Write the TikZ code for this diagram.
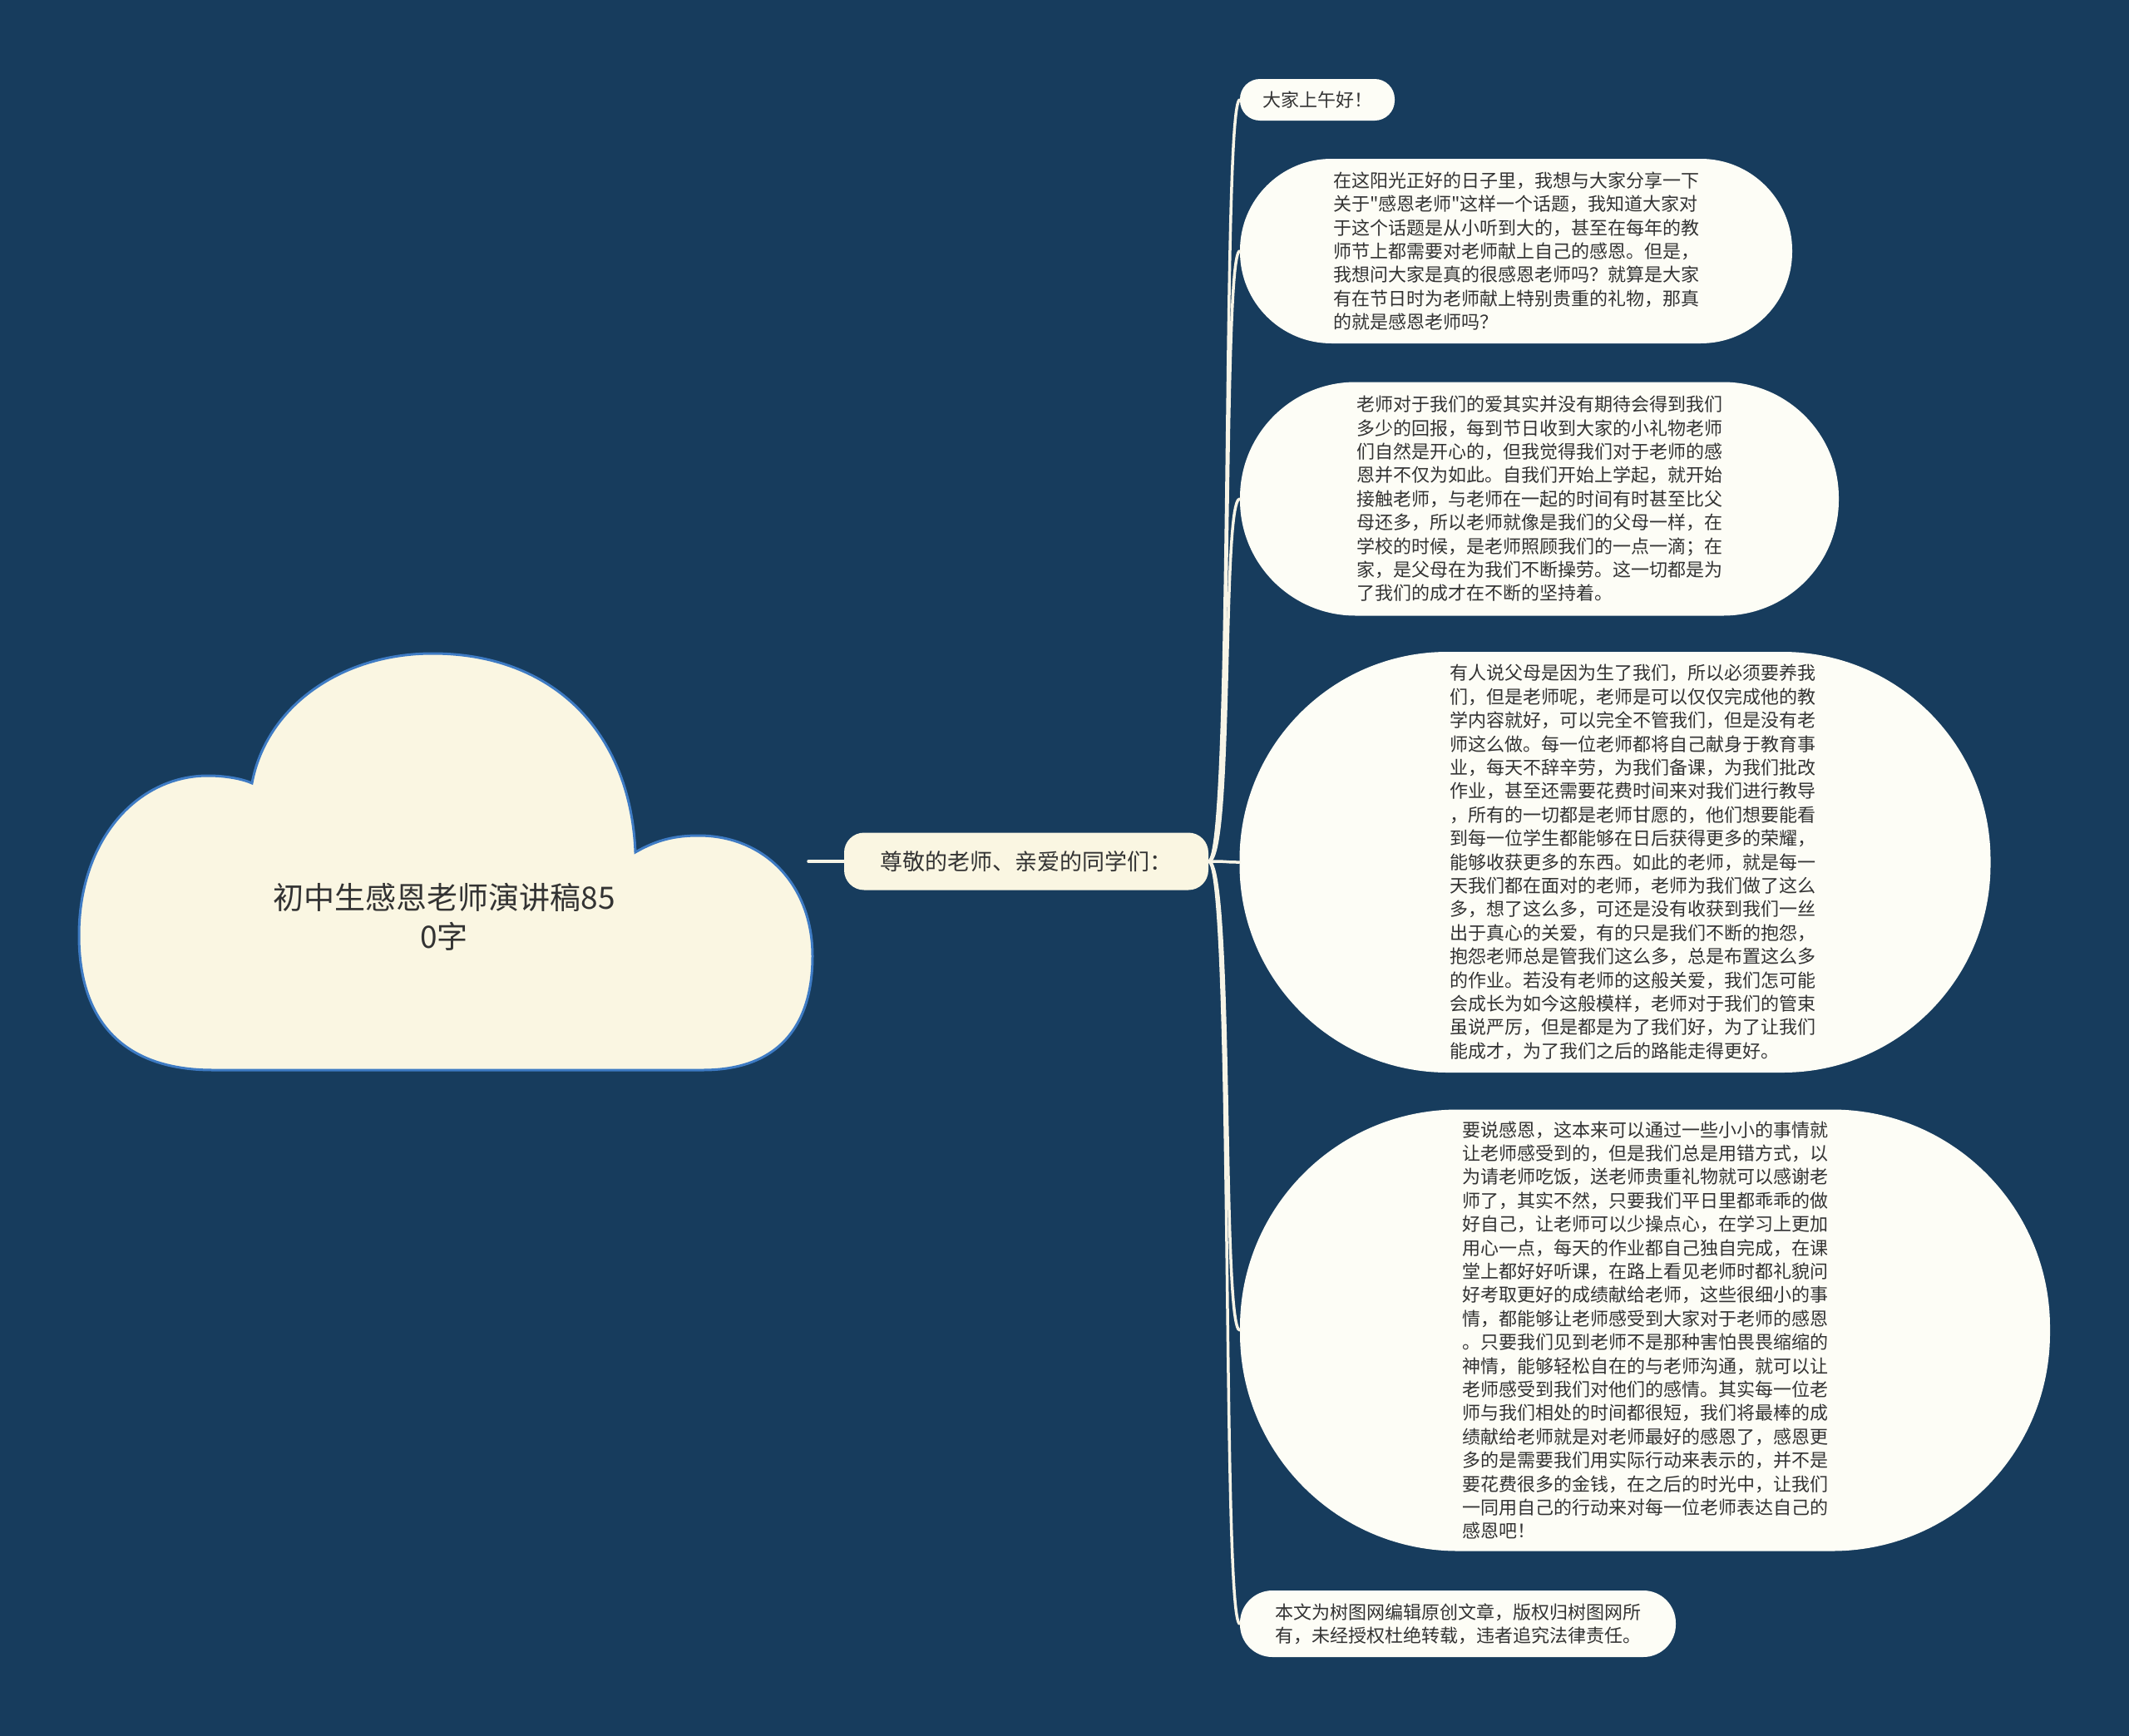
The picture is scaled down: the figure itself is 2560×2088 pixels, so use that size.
\documentclass[tikz,border=0pt]{standalone}
\usepackage{fontspec}
\usetikzlibrary{calc}
\newfontfamily\cjk{Noto Sans CJK SC}
\definecolor{bgc}{HTML}{173C5D}
\definecolor{leafc}{HTML}{FDFDF6}
\definecolor{cloudc}{HTML}{FAF6E2}
\definecolor{cloudline}{HTML}{3E7BC4}
\definecolor{linkc}{HTML}{F7F4E6}
\definecolor{txt}{HTML}{333333}
\begin{document}
\begin{tikzpicture}[x=1pt,y=-1pt,
  leaf/.style={fill=leafc, text=txt, font=\cjk\fontsize{22}{28.4}\selectfont, align=left, inner sep=0pt, anchor=center},
  midbox/.style={fill=cloudc, text=txt, font=\cjk\fontsize{27}{34}\selectfont, inner sep=0pt, anchor=center, minimum width=438pt, minimum height=69pt, rounded corners=24pt},
  title/.style={text=txt, font=\cjk\fontsize{37}{47}\selectfont, align=center, inner sep=0pt},
  link/.style={draw=linkc, line width=3.5pt, line cap=round},
  cloudshape/.style={fill=cloudc, draw=cloudline, line width=3pt}]
\useasboundingbox (0,0) rectangle (2560,2088);
\fill[bgc] (0,0) rectangle (2560,2088);

% cloud
\path[cloudshape] (256,1287)
  .. controls (150,1287) and (95,1230) .. (95,1125)
  .. controls (95,1010) and (165,933) .. (250,933)
  .. controls (272,933) and (292,937) .. (303,942)
  .. controls (320,850) and (410,786) .. (520,786)
  .. controls (665,786) and (758,880) .. (764,1025)
  .. controls (790,1010) and (812,1005) .. (840,1005)
  .. controls (920,1005) and (977,1065) .. (977,1150)
  .. controls (977,1235) and (935,1287) .. (845,1287)
  -- cycle;
\node[title] (root) at (534,1103) {初中生感恩老师演讲稿85\\0字};
\coordinate (rootR) at (972,1036);

\node[midbox] (mid) at (1234,1036) {尊敬的老师、亲爱的同学们：};

\node[leaf, minimum width=186pt, minimum height=50pt, rounded corners=24pt] (n1) at (1584,120) {大家上午好！};

\node[leaf, minimum width=664pt, minimum height=222pt, rounded corners=110pt] (n2) at (1823,302) {在这阳光正好的日子里，我想与大家分享一下\\关于"感恩老师"这样一个话题，我知道大家对\\于这个话题是从小听到大的，甚至在每年的教\\师节上都需要对老师献上自己的感恩。但是，\\我想问大家是真的很感恩老师吗？就算是大家\\有在节日时为老师献上特别贵重的礼物，那真\\的就是感恩老师吗？};

\node[leaf, minimum width=720pt, minimum height=281pt, rounded corners=139pt] (n3) at (1851,600) {老师对于我们的爱其实并没有期待会得到我们\\多少的回报，每到节日收到大家的小礼物老师\\们自然是开心的，但我觉得我们对于老师的感\\恩并不仅为如此。自我们开始上学起，就开始\\接触老师，与老师在一起的时间有时甚至比父\\母还多，所以老师就像是我们的父母一样，在\\学校的时候，是老师照顾我们的一点一滴；在\\家，是父母在为我们不断操劳。这一切都是为\\了我们的成才在不断的坚持着。};

\node[leaf, minimum width=903pt, minimum height=506pt, rounded corners=250pt] (n4) at (1942,1037) {};
\node[leaf, fill=none] (n4t) at ($(n4.center)+(21,0)$) {有人说父母是因为生了我们，所以必须要养我\\们，但是老师呢，老师是可以仅仅完成他的教\\学内容就好，可以完全不管我们，但是没有老\\师这么做。每一位老师都将自己献身于教育事\\业，每天不辞辛劳，为我们备课，为我们批改\\作业，甚至还需要花费时间来对我们进行教导\\，所有的一切都是老师甘愿的，他们想要能看\\到每一位学生都能够在日后获得更多的荣耀，\\能够收获更多的东西。如此的老师，就是每一\\天我们都在面对的老师，老师为我们做了这么\\多，想了这么多，可还是没有收获到我们一丝\\出于真心的关爱，有的只是我们不断的抱怨，\\抱怨老师总是管我们这么多，总是布置这么多\\的作业。若没有老师的这般关爱，我们怎可能\\会成长为如今这般模样，老师对于我们的管束\\虽说严厉，但是都是为了我们好，为了让我们\\能成才，为了我们之后的路能走得更好。};

\node[leaf, minimum width=974pt, minimum height=531pt, rounded corners=262pt] (n5) at (1978,1600) {要说感恩，这本来可以通过一些小小的事情就\\让老师感受到的，但是我们总是用错方式，以\\为请老师吃饭，送老师贵重礼物就可以感谢老\\师了，其实不然，只要我们平日里都乖乖的做\\好自己，让老师可以少操点心，在学习上更加\\用心一点，每天的作业都自己独自完成，在课\\堂上都好好听课，在路上看见老师时都礼貌问\\好考取更好的成绩献给老师，这些很细小的事\\情，都能够让老师感受到大家对于老师的感恩\\。只要我们见到老师不是那种害怕畏畏缩缩的\\神情，能够轻松自在的与老师沟通，就可以让\\老师感受到我们对他们的感情。其实每一位老\\师与我们相处的时间都很短，我们将最棒的成\\绩献给老师就是对老师最好的感恩了，感恩更\\多的是需要我们用实际行动来表示的，并不是\\要花费很多的金钱，在之后的时光中，让我们\\一同用自己的行动来对每一位老师表达自己的\\感恩吧！};

\node[leaf, minimum width=524pt, minimum height=80pt, rounded corners=39pt] (n6) at (1753,1953) {本文为树图网编辑原创文章，版权归树图网所\\有，未经授权杜绝转载，违者追究法律责任。};

% connectors
\draw[link] (rootR) -- (mid.west);
\foreach \c in {n1,n2,n3,n4,n5,n6}{
  \draw[link] (mid.east) .. controls ($(mid.east)+(30,0)$) and ($(\c.west)+(-22,0)$) .. (\c.west);
}
\end{tikzpicture}
\end{document}
